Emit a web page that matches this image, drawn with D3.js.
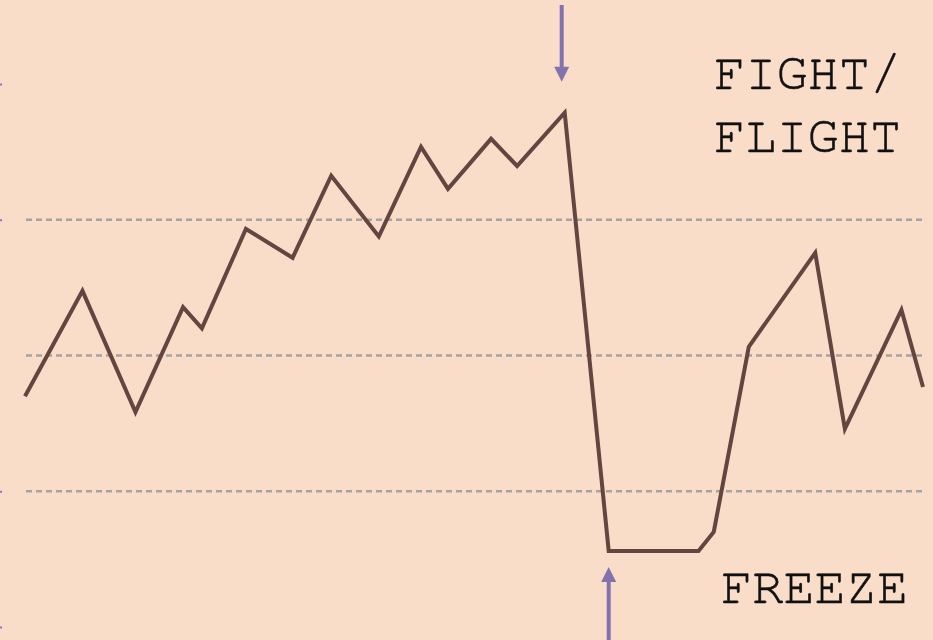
<!DOCTYPE html>
<html>
<head>
<meta charset="utf-8">
<script src="https://cdn.jsdelivr.net/npm/d3@7"></script>
<style>
  body { margin: 0; background: #f9ddc9; overflow: hidden; }
</style>
</head>
<body>
<script>
// Données
const timeValues = [0, 6.4, 12.3, 17.6, 19.7, 24.6, 29.8, 34.1, 39.4, 44.1, 47.1, 51.9, 54.8, 60.1, 65.0, 75.0, 76.7, 80.6, 88.0, 91.3, 97.6, 100];
const stateValues = [42.5, 61.9, 39.6, 58.9, 55.0, 73.3, 68.0, 83.1, 71.9, 88.4, 80.7, 89.9, 84.9, 94.7, 14.0, 14.0, 17.5, 51.6, 68.9, 36.5, 58.4, 44.2];
const gridValues = [25, 50, 75];
const tickValues = [0, 25, 75, 100];
const labelsTop = ["FIGHT/", "FLIGHT"];
const labelBottom = "FREEZE";

const width = 933, height = 640;
const font = "FreeMono, 'Courier New', monospace";

const svg = d3.select("body").append("svg")
  .attr("width", width)
  .attr("height", height);

svg.append("rect")
  .attr("width", width)
  .attr("height", height)
  .attr("fill", "#f9ddc9");

const x = d3.scaleLinear().domain([0, 100]).range([25, 923]);
const y = d3.scaleLinear().domain([0, 100]).range([627, 84]);

// axe (presque hors cadre)
svg.append("g")
  .attr("transform", "translate(-2,0)")
  .call(d3.axisLeft(y).tickValues(tickValues).tickSize(-4).tickFormat(""))
  .call(g => g.select(".domain").remove())
  .selectAll("line")
  .attr("stroke", "#8a78ad")
  .attr("stroke-width", 2);

// lignes pointillées
svg.append("g")
  .selectAll("line")
  .data(gridValues)
  .enter()
  .append("line")
  .attr("x1", x(0) + 1)
  .attr("x2", x(100))
  .attr("y1", d => y(d))
  .attr("y2", d => y(d))
  .attr("stroke", "#a6a3a1")
  .attr("stroke-width", 2.5)
  .attr("stroke-dasharray", "6,4");

const data = timeValues.map((t, i) => ({ t: t, v: stateValues[i] }));

svg.append("path")
  .datum(data)
  .attr("fill", "none")
  .attr("stroke", "#654540")
  .attr("stroke-width", 4)
  .attr("stroke-linejoin", "miter")
  .attr("d", d3.line().x(d => x(d.t)).y(d => y(d.v)));

// flèches
const arrowColor = "#8272ad";
const peak = data[13];
const low = data[14];

const px = x(peak.t) - 3, py = y(peak.v) - 31;
svg.append("line")
  .attr("x1", px).attr("x2", px)
  .attr("y1", 5).attr("y2", py - 12)
  .attr("stroke", arrowColor).attr("stroke-width", 4);
svg.append("path")
  .attr("d", `M${px - 7.5},${py - 15} L${px + 7.5},${py - 15} L${px},${py} Z`)
  .attr("fill", arrowColor);

const lx = x(low.t), ly = y(low.v) + 16;
svg.append("line")
  .attr("x1", lx).attr("x2", lx)
  .attr("y1", ly + 12).attr("y2", height)
  .attr("stroke", arrowColor).attr("stroke-width", 4);
svg.append("path")
  .attr("d", `M${lx - 7.5},${ly + 15} L${lx + 7.5},${ly + 15} L${lx},${ly} Z`)
  .attr("fill", arrowColor);

// textes
svg.selectAll(".lab")
  .data(labelsTop)
  .enter()
  .append("text")
  .attr("class", "lab")
  .attr("x", 714)
  .attr("y", (d, i) => 89 + i * 63)
  .attr("font-family", font)
  .attr("font-size", "52px")
  .attr("fill", "#111")
  .attr("stroke", "#111")
  .attr("stroke-width", 0.6)
  .text(d => d);

svg.append("text")
  .attr("x", 721)
  .attr("y", 603)
  .attr("font-family", font)
  .attr("font-size", "52px")
  .attr("fill", "#111")
  .attr("stroke", "#111")
  .attr("stroke-width", 0.6)
  .text(labelBottom);
</script>
</body>
</html>
